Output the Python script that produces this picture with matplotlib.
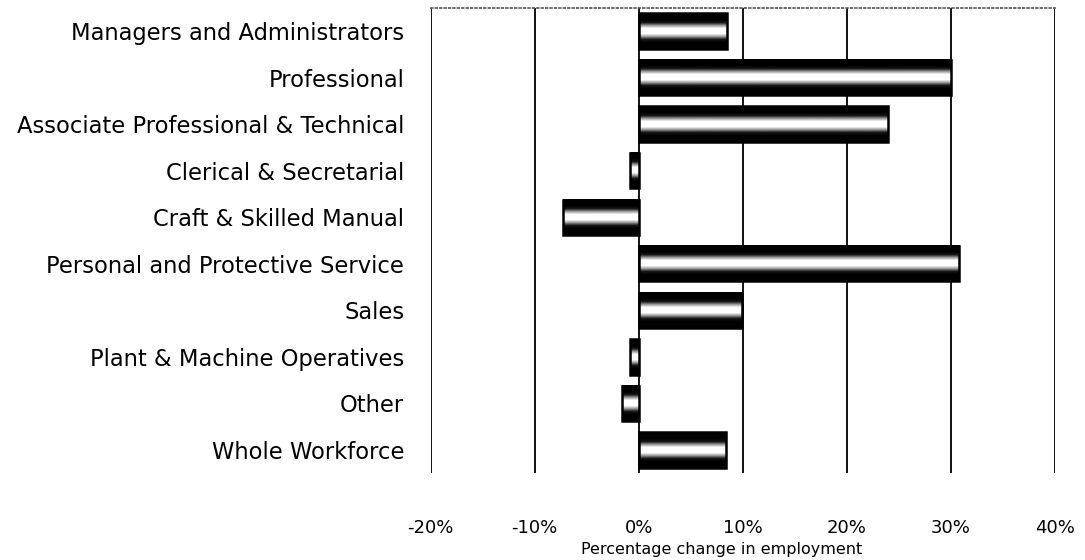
import matplotlib.pyplot as plt
import numpy as np
from matplotlib.colors import LinearSegmentedColormap

categories = [
    "Managers and Administrators",
    "Professional",
    "Associate Professional & Technical",
    "Clerical & Secretarial",
    "Craft & Skilled Manual",
    "Personal and Protective Service",
    "Sales",
    "Plant & Machine Operatives",
    "Other",
    "Whole Workforce",
]
pct_change = [8.5, 30.0, 24.0, -0.8, -7.3, 30.8, 9.9, -0.8, -1.6, 8.4]
xticks = [-20, -10, 0, 10, 20, 30, 40]

fig = plt.figure(figsize=(10.85, 5.6), dpi=100)
ax = fig.add_axes([0.397, 0.155, 0.575, 0.831])

# shaded "tube" look of the bars: dark edges, light middle
profile = np.array([0.0, 0.0, 0.0, 0.1, 0.6, 1.0, 1.0, 1.0, 0.6, 0.1, 0.0, 0.0, 0.0])
cmap = LinearSegmentedColormap.from_list("tube", ["black", "white"])
bar_h = 0.76

y = np.arange(len(categories))
for yi, v in zip(y, pct_change):
    x0, x1 = min(0, v), max(0, v)
    ax.imshow(profile.reshape(-1, 1), cmap=cmap, vmin=0, vmax=1, aspect="auto",
              extent=(x0, x1, yi + bar_h / 2, yi - bar_h / 2), zorder=3,
              interpolation="bilinear")
    ax.add_patch(plt.Rectangle((x0, yi - bar_h / 2), x1 - x0, bar_h, fill=False,
                               edgecolor="black", linewidth=1.8, zorder=4))

ax.set_xlim(-20, 40)
ax.set_ylim(len(categories) - 0.5, -0.5)
ax.set_xticks(xticks)
ax.set_xticklabels([f"{t}%" for t in xticks], fontsize=13)
ax.set_yticks(y)
ax.set_yticklabels(categories, fontsize=16.3)
ax.tick_params(length=0)
ax.tick_params(axis="y", pad=19)
ax.tick_params(axis="x", pad=33)
for xt in xticks:
    ax.axvline(xt, color="black", linewidth=1.3, zorder=1)
for s in ["left", "right", "bottom"]:
    ax.spines[s].set_visible(False)
ax.spines["top"].set_linestyle(":")
ax.spines["top"].set_color("#555555")
ax.spines["top"].set_linewidth(1.2)
ax.set_xlabel("Percentage change in employment", fontsize=11.5)
ax.xaxis.set_label_coords(0.466, -0.148)

fig.savefig("out.png", dpi=100)
